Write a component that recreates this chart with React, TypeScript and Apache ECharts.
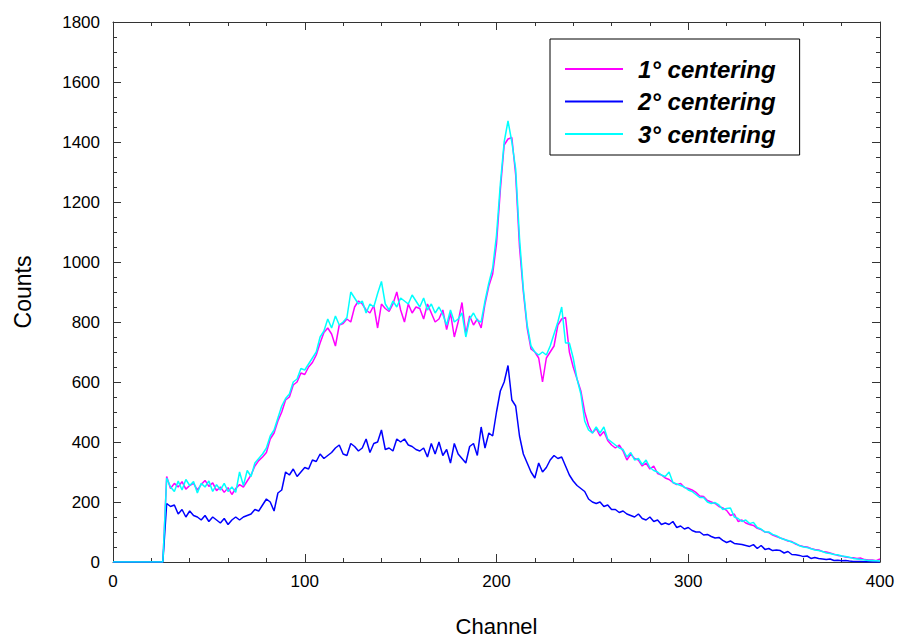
import React, { useEffect, useRef } from "react";
import * as echarts from "echarts";

const CHANNEL_START = 0;
const CHANNEL_STEP = 2;

const seriesNames = ["1° centering", "2° centering", "3° centering"];
const seriesColors = ["#ff00ff", "#0000ff", "#00ffff"];

const centering1 = [
  0, 0, 0, 0, 0, 0, 0, 0, 0, 0,
  0, 0, 0, 0, 285, 245, 262, 250, 268, 243,
  255, 262, 240, 258, 272, 252, 264, 238, 250, 232,
  248, 225, 245, 258, 250, 270, 290, 320, 338, 350,
  365, 410, 430, 470, 500, 540, 550, 590, 600, 630,
  625, 650, 665, 690, 730, 765, 780, 760, 720, 790,
  795, 810, 800, 850, 870, 860, 840, 830, 855, 780,
  860, 845, 835, 860, 900, 840, 800, 860, 830, 850,
  845, 810, 860, 830, 800, 810, 840, 775, 830, 750,
  800, 865, 760, 820, 790, 810, 780, 860, 920, 960,
  1060, 1240, 1390, 1410, 1415, 1290, 1050, 900, 780, 710,
  700, 680, 600, 680, 700, 720, 790, 810, 815, 700,
  650, 610, 570, 500, 455, 430, 445, 420, 435, 405,
  390, 380, 390, 370, 340, 360, 345, 340, 320, 330,
  310, 320, 295, 290, 280, 275, 265, 258, 262, 248,
  245, 240, 232, 220, 218, 205, 200, 195, 185, 180,
  172, 155, 160, 135, 140, 130, 125, 122, 112, 108,
  100, 98, 90, 85, 80, 76, 70, 68, 60, 55,
  52, 50, 45, 42, 40, 35, 33, 30, 26, 22,
  20, 17, 15, 14, 12, 13, 8, 7, 7, 4,
  10,
];

const centering2 = [
  0, 0, 0, 0, 0, 0, 0, 0, 0, 0,
  0, 0, 0, 0, 195, 185, 190, 160, 175, 150,
  170, 155, 150, 140, 155, 135, 150, 140, 130, 145,
  125, 140, 150, 140, 150, 155, 160, 175, 170, 190,
  210, 200, 170, 230, 240, 300, 290, 310, 285, 300,
  315, 310, 340, 335, 360, 345, 355, 365, 380, 390,
  360, 355, 395, 385, 370, 380, 410, 365, 395, 400,
  440, 375, 380, 370, 410, 400, 410, 390, 385, 375,
  370, 380, 350, 395, 360, 400, 355, 375, 330, 395,
  360, 345, 330, 385, 395, 355, 450, 380, 430, 420,
  500, 570, 600, 655, 540, 520, 420, 360, 330, 300,
  280, 330, 300, 315, 340, 355, 345, 350, 320, 290,
  270, 255, 245, 235, 210, 200, 195, 200, 185, 190,
  175, 175, 165, 170, 160, 155, 150, 160, 145, 140,
  150, 135, 140, 125, 130, 125, 135, 115, 120, 110,
  115, 105, 100, 100, 90, 92, 85, 80, 82, 72,
  65, 70, 62, 60, 58, 55, 52, 58, 45, 55,
  42, 45, 38, 40, 38, 30, 35, 25, 24, 22,
  18, 20, 12, 15, 12, 10, 8, 10, 5, 6,
  4, 5, 3, 2, 2, 2, 1, 1, 0, 0,
  0,
];

const centering3 = [
  0, 0, 0, 0, 0, 0, 0, 0, 0, 0,
  0, 0, 0, 0, 280, 250, 235, 270, 240, 275,
  255, 268, 230, 262, 250, 270, 235, 258, 240, 262,
  235, 250, 232, 300, 255, 305, 285, 330, 345, 360,
  380, 420, 440, 480, 520, 545, 560, 600, 610, 645,
  640, 660, 680, 700, 750, 770, 810, 780, 820, 790,
  800, 815, 900, 880, 860, 870, 830, 860, 850, 895,
  935, 860, 840, 870, 850, 880, 870, 860, 890, 870,
  850, 880, 840, 860, 830, 850, 825, 790, 840, 800,
  810, 830, 750, 810, 830, 805, 800, 870, 930, 980,
  1090, 1260, 1400, 1470, 1400, 1310, 1080, 910, 790, 720,
  700, 690, 700, 690, 720, 760, 800, 850, 730, 730,
  680, 610, 560, 470, 440, 430, 450, 430, 450, 410,
  400, 390, 380, 375, 350, 365, 340, 345, 325, 340,
  315, 305, 300, 290, 285, 300, 265, 260, 255, 250,
  240, 235, 225, 215, 215, 200, 195, 198, 190, 175,
  178, 180, 150, 145, 135, 140, 128, 132, 115, 110,
  100, 100, 92, 88, 80, 75, 72, 66, 62, 54,
  50, 48, 44, 40, 38, 35, 30, 28, 25, 24,
  20, 18, 16, 12, 10, 8, 7, 5, 5, 4,
  3,
];

const allSeries = [centering1, centering2, centering3];

const FONT = "'Liberation Sans', Arial, Helvetica, sans-serif";
const AXIS_COLOR = "#333";

function toPairs(values: number[]) {
  return values.map((v, i) => [CHANNEL_START + i * CHANNEL_STEP, v]);
}

function axisBase(showLabels: boolean, minorSplit: number) {
  return {
    axisLine: { show: true, onZero: false, lineStyle: { color: AXIS_COLOR, width: 1 } },
    axisTick: { show: true, inside: true, length: 8, lineStyle: { color: AXIS_COLOR } },
    minorTick: { show: true, splitNumber: minorSplit, length: 4, lineStyle: { color: AXIS_COLOR } },
    splitLine: { show: false },
    minorSplitLine: { show: false },
    axisLabel: {
      show: showLabels,
      color: "#000",
      fontSize: 17,
      fontFamily: FONT,
      formatter: (v: number) => String(v),
    },
  };
}

export default function App() {
  const ref = useRef<HTMLDivElement>(null);

  useEffect(() => {
    if (!ref.current) return;
    const chart = echarts.init(ref.current, null, { renderer: "svg" });
    const xb = axisBase(true, 5);
    const yb = axisBase(true, 4);
    chart.setOption({
      animation: false,
      backgroundColor: "#fff",
      grid: {
        left: 113,
        right: 23,
        top: 22,
        bottom: 76,
        containLabel: false,
        outerBoundsMode: "none",
      },
      legend: {
        orient: "vertical",
        left: 550,
        top: 39,
        icon: "rect",
        itemWidth: 58,
        itemHeight: 2,
        itemGap: 6.5,
        padding: [17, 24, 8, 15],
        borderColor: "#000",
        borderWidth: 1,
        backgroundColor: "#fff",
        data: seriesNames,
        textStyle: {
          color: "#000",
          fontSize: 24,
          fontWeight: "bold",
          fontStyle: "italic",
          fontFamily: FONT,
          lineHeight: 26,
          padding: [0, 0, 0, 10],
        },
      },
      xAxis: [
        {
          ...xb,
          type: "value",
          position: "bottom",
          min: 0,
          max: 400,
          interval: 100,
          name: "Channel",
          nameLocation: "middle",
          nameGap: 53,
          nameTextStyle: { color: "#000", fontSize: 22, lineHeight: 22, fontFamily: FONT },
          axisLabel: { ...xb.axisLabel, margin: 11 },
        },
        {
          ...axisBase(false, 5),
          type: "value",
          position: "top",
          min: 0,
          max: 400,
          interval: 100,
        },
      ],
      yAxis: [
        {
          ...yb,
          type: "value",
          position: "left",
          min: 0,
          max: 1800,
          interval: 200,
          name: "Counts",
          nameLocation: "middle",
          nameGap: 79,
          nameTextStyle: { color: "#000", fontSize: 23, fontFamily: FONT },
          axisLabel: { ...yb.axisLabel, margin: 13 },
        },
        {
          ...axisBase(false, 4),
          type: "value",
          position: "right",
          min: 0,
          max: 1800,
          interval: 200,
        },
      ],
      series: allSeries.map((vals, i) => ({
        name: seriesNames[i],
        type: "line",
        xAxisIndex: 0,
        yAxisIndex: 0,
        symbol: "none",
        showSymbol: false,
        color: seriesColors[i],
        lineStyle: { color: seriesColors[i], width: 1.5 },
        data: toPairs(vals),
        z: 2 + i,
      })),
    });
    return () => chart.dispose();
  }, []);

  return <div ref={ref} style={{ width: 903, height: 638, marginLeft: -8, marginTop: -8 }} />;
}
